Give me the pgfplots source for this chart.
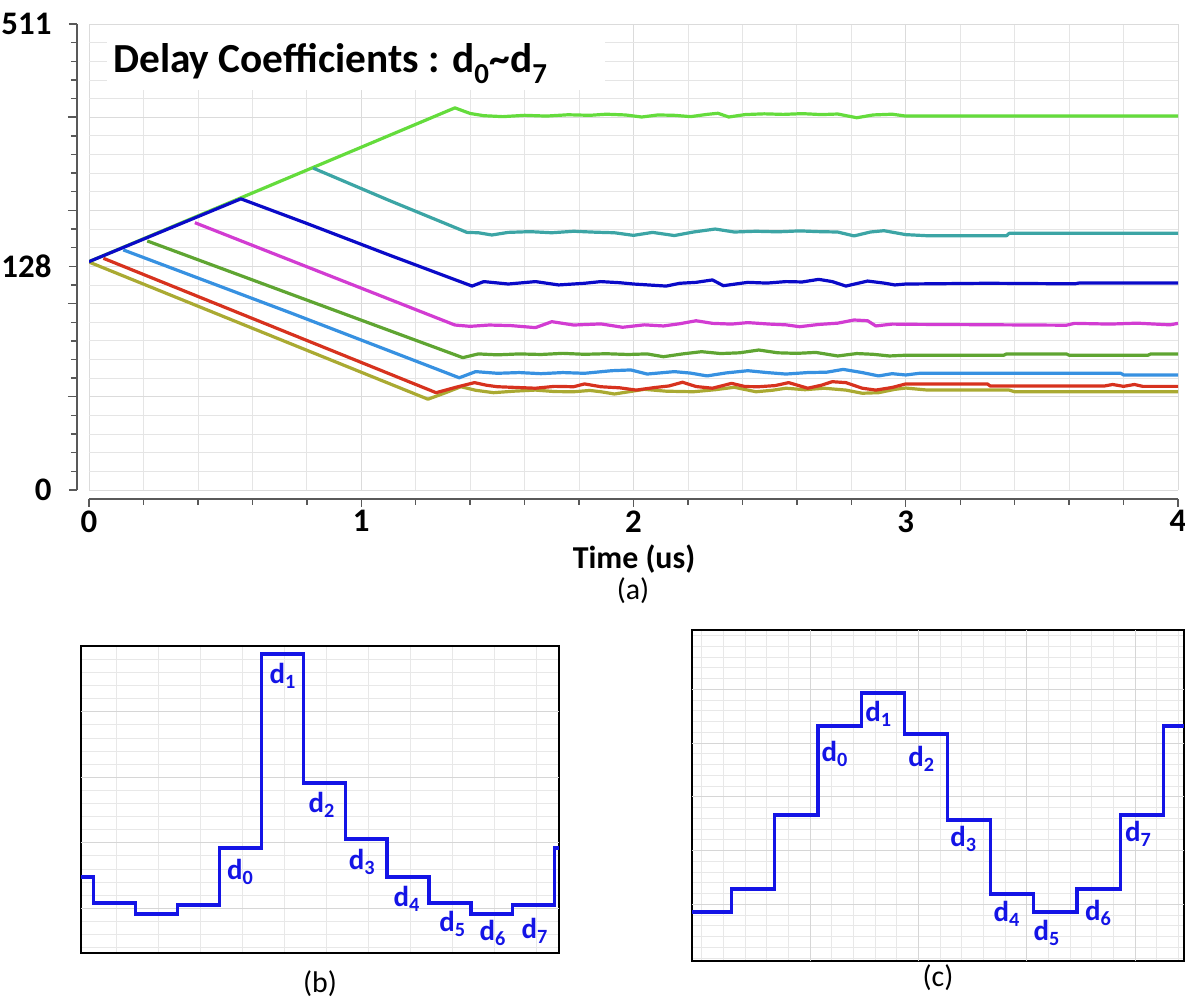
\documentclass[border=0pt]{standalone}
\usepackage{pgfplots}
\pgfplotsset{compat=1.18}
\usepackage{fontspec}
\setmainfont{Carlito}
\definecolor{cG}{RGB}{100,220,60}
\definecolor{cT}{RGB}{60,165,165}
\definecolor{cB}{RGB}{10,10,200}
\definecolor{cM}{RGB}{210,60,210}
\definecolor{cOG}{RGB}{95,165,50}
\definecolor{cLB}{RGB}{55,145,225}
\definecolor{cR}{RGB}{215,50,30}
\definecolor{cY}{RGB}{170,170,50}
\definecolor{stepblue}{RGB}{20,20,230}
\begin{document}
\begin{tikzpicture}
\path[use as bounding box] (0,0) rectangle (1185bp,1003bp);
% ---------------- (a) ----------------
\begin{axis}[
  at={(89bp,513bp)}, anchor=south west,
  scale only axis, width=1089bp, height=466bp,
  xmin=0, xmax=4, ymin=0, ymax=25,
  axis x line*=bottom, axis y line*=left,
  axis x line shift=9bp, axis y line shift=12bp,
  axis line style={line width=1.6bp, color=black!65},
  tick align=outside,
  tick style={line width=1.4bp, color=black!65},
  major tick length=8bp, minor tick length=6bp,
  xtick={0,1,2,3,4}, minor x tick num=4,
  ytick={0,12,25}, yticklabels={0,128,511},
  minor ytick={1,...,24},
  extra y ticks={5,10,15,20}, extra y tick labels={},
  extra y tick style={grid=major, major tick length=9bp},
  grid=both,
  major grid style={gray!28, line width=0.9bp},
  minor grid style={gray!20, line width=0.8bp},
  /pgf/number format/assume math mode=true,
  ticklabel style={font=\bfseries\fontsize{33}{33}\selectfont},
  xticklabel style={yshift=0bp},
  yticklabel style={xshift=-14bp},
  every axis plot/.append style={line width=3.2bp, line join=round},
]
\addplot[cG] coordinates {(0,12.25) (1.344,20.50) (1.40,20.20) (1.45,20.08) (1.52,20.03) (1.60,20.10) (1.68,20.06) (1.76,20.13) (1.84,20.10) (1.90,20.16) (1.97,20.12) (2.03,20.01) (2.09,20.12) (2.15,20.10) (2.21,20.03) (2.27,20.15) (2.31,20.21) (2.35,20.01) (2.41,20.14) (2.48,20.18) (2.55,20.15) (2.62,20.19) (2.69,20.14) (2.75,20.17) (2.82,19.97) (2.88,20.12) (2.95,20.16) (3.0,20.06) (4.0,20.06)};
\addplot[cT] coordinates {(0.823,17.27) (1.10,15.55) (1.388,13.82) (1.43,13.80) (1.48,13.68) (1.54,13.82) (1.62,13.86) (1.70,13.80) (1.78,13.88) (1.86,13.83) (1.93,13.80) (2.00,13.66) (2.07,13.82) (2.15,13.65) (2.22,13.84) (2.30,14.00) (2.37,13.84) (2.45,13.88) (2.53,13.85) (2.61,13.90) (2.68,13.86) (2.75,13.84) (2.81,13.63) (2.87,13.84) (2.92,13.91) (3.0,13.70) (3.08,13.64) (3.37,13.64) (3.38,13.77) (4.0,13.77)};
\addplot[cY] coordinates {(0,12.23) (0.62,8.56) (1.245,4.87) (1.31,5.22) (1.366,5.54) (1.42,5.35) (1.486,5.22) (1.56,5.30) (1.64,5.36) (1.71,5.28) (1.78,5.27) (1.84,5.34) (1.88,5.27) (1.93,5.15) (2.04,5.40) (2.12,5.30) (2.22,5.27) (2.30,5.38) (2.37,5.51) (2.45,5.27) (2.51,5.35) (2.56,5.46) (2.63,5.38) (2.70,5.46) (2.78,5.36) (2.84,5.19) (2.90,5.22) (2.96,5.40) (3.0,5.47) (3.08,5.36) (3.38,5.36) (3.40,5.27) (4.0,5.27)};
\addplot[cR] coordinates {(0.053,12.43) (0.66,8.85) (1.275,5.22) (1.35,5.52) (1.416,5.76) (1.46,5.62) (1.50,5.54) (1.57,5.50) (1.64,5.46) (1.71,5.56) (1.78,5.54) (1.82,5.69) (1.88,5.54) (1.95,5.48) (2.01,5.36) (2.08,5.50) (2.13,5.58) (2.18,5.78) (2.23,5.55) (2.29,5.46) (2.36,5.72) (2.41,5.55) (2.46,5.54) (2.52,5.60) (2.57,5.76) (2.64,5.46) (2.69,5.62) (2.73,5.81) (2.78,5.76) (2.84,5.46) (2.89,5.36) (2.95,5.50) (3.0,5.69) (3.30,5.69) (3.31,5.58) (3.73,5.58) (3.76,5.66) (3.80,5.56) (3.84,5.66) (3.87,5.56) (4.0,5.56)};
\addplot[cLB] coordinates {(0.126,12.88) (0.75,9.45) (1.36,6.02) (1.42,6.35) (1.50,6.26) (1.58,6.30) (1.66,6.24) (1.74,6.30) (1.82,6.26) (1.92,6.40) (1.99,6.44) (2.05,6.22) (2.15,6.35) (2.21,6.27) (2.27,6.12) (2.34,6.28) (2.42,6.40) (2.49,6.30) (2.56,6.22) (2.64,6.30) (2.71,6.32) (2.77,6.47) (2.84,6.30) (2.90,6.12) (2.95,6.24) (3.0,6.17) (3.05,6.26) (3.79,6.26) (3.80,6.17) (4.0,6.17)};
\addplot[cOG] coordinates {(0.214,13.36) (0.80,10.19) (1.373,7.10) (1.43,7.30) (1.50,7.25) (1.58,7.30) (1.66,7.27) (1.74,7.33) (1.82,7.28) (1.90,7.31) (1.98,7.27) (2.05,7.30) (2.11,7.15) (2.18,7.30) (2.25,7.42) (2.32,7.32) (2.39,7.36) (2.46,7.51) (2.53,7.36) (2.60,7.33) (2.67,7.38) (2.75,7.19) (2.82,7.32) (2.88,7.28) (2.94,7.19) (3.0,7.23) (3.36,7.23) (3.37,7.30) (3.59,7.30) (3.60,7.23) (3.89,7.23) (3.90,7.30) (4.0,7.30)};
\addplot[cM] coordinates {(0.389,14.34) (0.85,11.69) (1.344,8.85) (1.40,8.78) (1.47,8.85) (1.55,8.82) (1.64,8.71) (1.70,9.03) (1.78,8.85) (1.88,8.91) (1.96,8.73) (2.04,8.86) (2.11,8.80) (2.17,8.92) (2.23,9.08) (2.29,8.94) (2.36,8.90) (2.42,8.98) (2.50,8.90) (2.56,8.86) (2.61,8.76) (2.68,8.88) (2.75,8.95) (2.81,9.12) (2.86,9.08) (2.89,8.80) (2.95,8.90) (3.0,8.89) (3.59,8.84) (3.62,8.94) (3.75,8.90) (3.85,8.95) (3.97,8.86) (4.0,8.94)};
\addplot[cB] coordinates {(0,12.25) (0.558,15.62) (0.80,14.30) (1.10,12.62) (1.407,10.94) (1.45,11.18) (1.54,11.05) (1.64,11.18) (1.725,11.0) (1.82,11.09) (1.88,11.18) (1.95,11.12) (2.0,11.05) (2.12,10.94) (2.17,11.09) (2.23,11.14) (2.29,11.27) (2.33,10.96) (2.42,11.14) (2.49,11.10) (2.56,11.18) (2.62,11.16) (2.68,11.30) (2.73,11.18) (2.78,10.94) (2.86,11.21) (2.92,11.10) (2.96,11.0) (3.0,11.05) (3.3,11.09) (3.62,11.06) (3.64,11.11) (4.0,11.11)};
\end{axis}
\fill[white] (107bp,913bp) rectangle (605bp,977.5bp);
\node[anchor=base west, font=\bfseries\fontsize{41.5}{41.5}\selectfont, inner sep=0pt] at (113bp,930bp) {Delay Coefficients : d\textsubscript{0}\textasciitilde d\textsubscript{7}};
\node[font=\bfseries\fontsize{32}{32}\selectfont, inner sep=1bp] at (634bp,444bp) {Time (us)};
\node[font=\fontsize{30}{30}\selectfont, inner sep=1bp] at (633bp,412bp) {(a)};
% ---------------- (b) ----------------
\begin{axis}[
  at={(81bp,50bp)}, anchor=south west,
  scale only axis, width=478bp, height=307bp,
  xmin=-0.30, xmax=11.10, ymin=0, ymax=307,
  axis line style={line width=2.2bp, black},
  xtick={0.55,1.55,...,10.6}, ytick={5.4,18.5,...,300},
  xticklabels={}, yticklabels={},
  extra y ticks={44.7,110.2,175.7,241.2}, extra y tick labels={},
  extra y tick style={grid=major, major grid style={gray!32, line width=0.9bp}},
  major tick length=0pt,
  grid=major, major grid style={gray!18, line width=0.8bp},
]
\addplot[const plot, stepblue, line width=3.2bp] coordinates {(-0.30,76) (0,50) (1,39) (2,48) (3,105) (4,299) (5,170) (6,114) (7,76) (8,50) (9,39) (10,48) (11,105) (11.10,105)};
\begin{scope}[every node/.style={font=\bfseries\fontsize{29}{29}\selectfont, text=stepblue, inner sep=0pt}]
\node at (axis cs:3.50,81) {d\textsubscript{0}};
\node at (axis cs:4.51,277) {d\textsubscript{1}};
\node at (axis cs:5.44,148) {d\textsubscript{2}};
\node at (axis cs:6.40,91) {d\textsubscript{3}};
\node at (axis cs:7.47,54) {d\textsubscript{4}};
\node at (axis cs:8.56,29) {d\textsubscript{5}};
\node at (axis cs:9.52,20) {d\textsubscript{6}};
\node at (axis cs:10.52,22) {d\textsubscript{7}};
\end{scope}
\end{axis}
\node[font=\fontsize{30}{30}\selectfont] at (320bp,19bp) {(b)};
% ---------------- (c) ----------------
\begin{axis}[
  at={(692bp,42bp)}, anchor=south west,
  scale only axis, width=492bp, height=331bp,
  xmin=-0.92, xmax=10.48, ymin=0, ymax=331,
  axis line style={line width=2.2bp, black},
  xtick={-0.695,-0.193,...,10.4}, ytick={2.95,13.7,...,325},
  xticklabels={}, yticklabels={},
  extra x ticks={1.815,4.325,6.835,9.345}, extra x tick labels={},
  extra y ticks={56.7,110.45,164.2,217.95,271.7}, extra y tick labels={},
  extra tick style={grid=major, major grid style={gray!32, line width=0.9bp}},
  major tick length=0pt,
  grid=major, major grid style={gray!18, line width=0.8bp},
]
\addplot[const plot, stepblue, line width=3.2bp] coordinates {(-0.92,49) (0,72) (1,146) (2,235) (3,268) (4,227) (5,141) (6,67) (7,49) (8,72) (9,146) (10,235) (10.48,235)};
\begin{scope}[every node/.style={font=\bfseries\fontsize{29}{29}\selectfont, text=stepblue, inner sep=0pt}]
\node at (axis cs:2.39,207) {d\textsubscript{0}};
\node at (axis cs:3.40,247) {d\textsubscript{1}};
\node at (axis cs:4.40,202) {d\textsubscript{2}};
\node at (axis cs:5.37,122) {d\textsubscript{3}};
\node at (axis cs:6.37,47) {d\textsubscript{4}};
\node at (axis cs:7.30,28) {d\textsubscript{5}};
\node at (axis cs:8.49,48) {d\textsubscript{6}};
\node at (axis cs:9.42,127) {d\textsubscript{7}};
\end{scope}
\end{axis}
\node[font=\fontsize{30}{30}\selectfont] at (938bp,25bp) {(c)};
\end{tikzpicture}
\end{document}
